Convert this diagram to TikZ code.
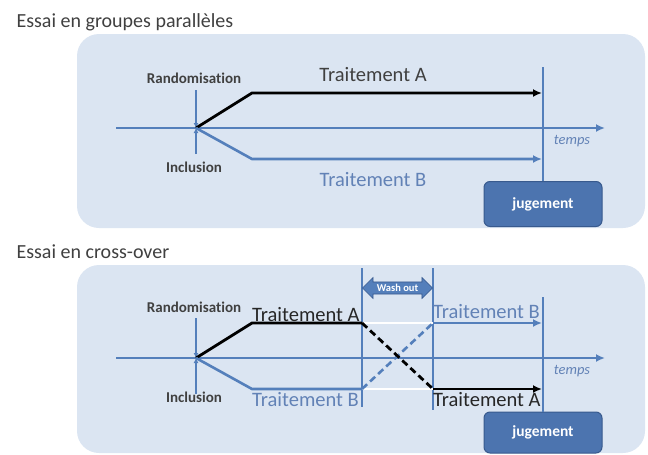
\documentclass[tikz,border=0pt]{standalone}
\usepackage{fontspec}
\setmainfont{Carlito}[Ligatures={NoCommon,NoRare}]
\usepackage{xcolor}
\usetikzlibrary{arrows.meta,shapes.arrows}
\definecolor{panelbg}{RGB}{219,229,242}
\definecolor{lineblue}{RGB}{84,127,187}
\definecolor{txtblue}{RGB}{98,130,182}
\definecolor{boxblue}{RGB}{76,116,175}
\definecolor{boxedge}{RGB}{56,90,142}
\definecolor{txtgray}{RGB}{64,64,64}

\begin{document}
\begin{tikzpicture}[x=1pt,y=-1pt,
    panel/.style={fill=panelbg, rounded corners=22pt},
    timeaxis/.style={draw=lineblue, line width=2pt, -{Latex[length=9pt,width=8pt]}},
    inctick/.style={draw=lineblue, line width=1.6pt, -{Latex[length=5pt,width=5pt]}},
    armA/.style={draw=black, line width=2.8pt},
    armB/.style={draw=lineblue, line width=2.6pt},
    tipA/.style={-{Latex[length=9pt,width=8pt]}},
    cross/.style={dash pattern=on 7pt off 4pt},
    endline/.style={draw=lineblue, line width=1.3pt},
    judge/.style={draw=boxedge, line width=1pt, fill=boxblue, rounded corners=6pt, minimum width=118pt, text=white, font=\fontsize{15.5}{18}\selectfont\bfseries},
    heading/.style={anchor=west, text=txtgray, font=\fontsize{20}{24}\selectfont},
    lbl/.style={text=txtgray, font=\fontsize{15}{18}\selectfont\bfseries},
    treat/.style={font=\fontsize{20.5}{24}\selectfont, inner sep=1pt},
    tempslbl/.style={text=txtblue, font=\fontsize{14.5}{17}\selectfont\itshape},
    ]
\useasboundingbox (0,0) rectangle (648,455);

\node[heading] (h1) at (13,22) {Essai en groupes parallèles};
\node[heading] (h2) at (13,252) {Essai en cross-over};

\path[panel] (77,34) rectangle (645,228);
\path[panel] (77,265) rectangle (645,453);

% groupes paralleles
\coordinate (axL1) at (116,128);
\coordinate (axR1) at (605,128);
\coordinate (o1) at (196,128);
\coordinate (tkT1) at (196,90);
\coordinate (tkB1) at (196,154);
\coordinate (bA1) at (252,93);
\coordinate (eA1) at (542,93);
\coordinate (bB1) at (252,159);
\coordinate (eB1) at (542,159);
\coordinate (jt1) at (543,67);
\node[judge, minimum height=45pt] (jug1) at (543,204) {jugement};

\draw[timeaxis] (axL1) -- (axR1);
\draw[inctick] (tkT1) -- (o1);
\draw[inctick] (tkB1) -- (o1);
\draw[armA, tipA] (o1) -- (bA1) -- (eA1);
\draw[armB, tipA] (o1) -- (bB1) -- (eB1);
\draw[endline] (jt1) -- (jug1.north);

\node[lbl] (rand1) at (194,78) {Randomisation};
\node[lbl] (incl1) at (194,167) {Inclusion};
\node[treat, text=txtgray] (tA1) at (373,75) {Traitement A};
\node[treat, text=txtblue] (tB1) at (373,180) {Traitement B};
\node[tempslbl] (tps1) at (572,141) {temps};

% cross-over
\coordinate (axL2) at (116,358);
\coordinate (axR2) at (605,358);
\coordinate (o2) at (196,358);
\coordinate (tkT2) at (196,318);
\coordinate (tkB2) at (196,394);
\coordinate (bA2) at (252,323);
\coordinate (wA2) at (362,323);
\coordinate (xA2) at (433,389);
\coordinate (eA2) at (542,389);
\coordinate (bB2) at (252,389);
\coordinate (wB2) at (362,389);
\coordinate (xB2) at (433,323);
\coordinate (eB2) at (542,323);
\coordinate (wlT) at (362,268);
\coordinate (wlB) at (362,407);
\coordinate (wrT) at (433,268);
\coordinate (wrB) at (433,410);
\coordinate (jt2) at (543,297);
\node[judge, minimum height=41pt] (jug2) at (543,432.5) {jugement};

\draw[timeaxis] (axL2) -- (axR2);
\draw[inctick] (tkT2) -- (o2);
\draw[inctick] (tkB2) -- (o2);
\draw[endline] (wlT) -- (wlB);
\draw[endline] (wrT) -- (wrB);
\draw[white, line width=1.3pt] (wA2) -- (xB2);
\draw[white, line width=1.3pt] (wB2) -- (xA2);
\draw[armA] (o2) -- (bA2) -- (wA2);
\draw[armB] (o2) -- (bB2) -- (wB2);
\draw[armB, cross] (wB2) -- (xB2);
\draw[armA, cross] (wA2) -- (xA2);
\draw[armA, tipA] (xA2) -- (eA2);
\draw[armB, tipA] (xB2) -- (eB2);
\draw[endline] (jt2) -- (jug2.north);

\node[double arrow, fill=lineblue, draw=boxedge, line width=0.6pt, inner sep=2pt,
      double arrow head extend=4.5pt, minimum height=70pt, text=white,
      font=\fontsize{10.5}{12}\selectfont\bfseries] (wash) at (397.5,288) {Wash out};

\node[lbl] (rand2) at (194,307) {Randomisation};
\node[lbl] (incl2) at (194,397) {Inclusion};
\node[treat, anchor=south west, text=black!85] (tA2) at (251,323) {Traitement A};
\node[treat, anchor=north west, text=txtblue] (tB2) at (251,391) {Traitement B};
\node[treat, anchor=south west, text=txtblue] (tB3) at (432,320) {Traitement B};
\node[treat, anchor=north west, text=black!85] (tA3) at (432,391) {Traitement A};
\node[tempslbl] (tps2) at (572,371) {temps};
\end{tikzpicture}
\end{document}
